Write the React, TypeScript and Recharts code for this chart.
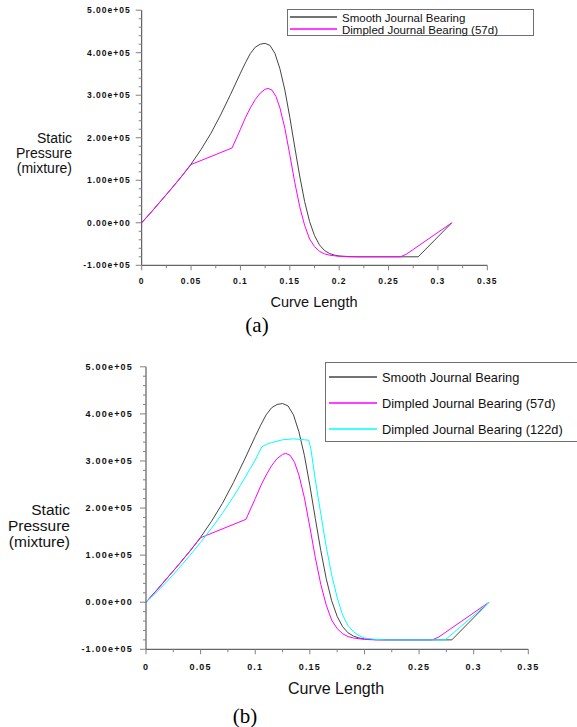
import { LineChart, Line, XAxis, YAxis } from 'recharts'

// axis ticks
const xMajor = [0, 0.05, 0.1, 0.15, 0.2, 0.25, 0.3, 0.35]
const xLabels = ['0', '0.05', '0.1', '0.15', '0.2', '0.25', '0.3', '0.35']
const xMinor = [0.025, 0.075, 0.125, 0.175, 0.225, 0.275, 0.325]
const yMajor = [-1e5, 0, 1e5, 2e5, 3e5, 4e5, 5e5]
const yLabels = ['-1.00e+05', '0.00e+00', '1.00e+05', '2.00e+05', '3.00e+05', '4.00e+05', '5.00e+05']
const yMinor = [
  -8e4, -6e4, -4e4, -2e4, 2e4, 4e4, 6e4, 8e4, 1.2e5, 1.4e5, 1.6e5, 1.8e5,
  2.2e5, 2.4e5, 2.6e5, 2.8e5, 3.2e5, 3.4e5, 3.6e5, 3.8e5, 4.2e5, 4.4e5, 4.6e5, 4.8e5,
]

// Smooth Journal Bearing
const smoothX = [
  0, 0.01, 0.02, 0.03, 0.04, 0.05, 0.06, 0.07, 0.08, 0.09, 0.1, 0.105, 0.11, 0.115, 0.12,
  0.125, 0.13, 0.135, 0.14, 0.145, 0.15, 0.155, 0.16, 0.165, 0.17, 0.175, 0.18, 0.185,
  0.19, 0.195, 0.2, 0.21, 0.22, 0.28, 0.314,
]
const smoothP = [
  0, 0.26e5, 0.53e5, 0.8e5, 1.08e5, 1.38e5, 1.72e5, 2.1e5, 2.54e5, 3.02e5, 3.52e5, 3.76e5,
  3.98e5, 4.13e5, 4.2e5, 4.22e5, 4.17e5, 3.98e5, 3.62e5, 3.12e5, 2.48e5, 1.78e5, 1.1e5,
  0.5e5, 0.03e5, -0.3e5, -0.52e5, -0.65e5, -0.72e5, -0.76e5, -0.78e5, -0.795e5, -0.8e5,
  -0.8e5, 0,
]

// Dimpled Journal Bearing (57d)
const dimpled57X = [
  0, 0.01, 0.02, 0.03, 0.04, 0.05, 0.0915, 0.1, 0.105, 0.11, 0.115, 0.12, 0.125, 0.128,
  0.132, 0.136, 0.14, 0.145, 0.15, 0.155, 0.16, 0.165, 0.17, 0.175, 0.18, 0.185, 0.19,
  0.2, 0.21, 0.262, 0.268, 0.314,
]
const dimpled57P = [
  0, 0.26e5, 0.53e5, 0.8e5, 1.08e5, 1.37e5, 1.76e5, 2.2e5, 2.47e5, 2.7e5, 2.9e5, 3.05e5,
  3.14e5, 3.16e5, 3.12e5, 2.97e5, 2.7e5, 2.22e5, 1.6e5, 0.95e5, 0.38e5, -0.06e5, -0.38e5,
  -0.56e5, -0.67e5, -0.73e5, -0.76e5, -0.79e5, -0.8e5, -0.8e5, -0.74e5, 0,
]

// Dimpled Journal Bearing (122d)
const dimpled122X = [
  0, 0.01, 0.02, 0.03, 0.04, 0.05, 0.06, 0.07, 0.08, 0.09, 0.1, 0.106, 0.11, 0.115, 0.12,
  0.125, 0.13, 0.135, 0.14, 0.145, 0.149, 0.151, 0.155, 0.16, 0.165, 0.17, 0.175, 0.18,
  0.185, 0.19, 0.195, 0.2, 0.21, 0.22, 0.274, 0.314,
]
const dimpled122P = [
  0, 0.22e5, 0.46e5, 0.72e5, 0.99e5, 1.27e5, 1.57e5, 1.89e5, 2.24e5, 2.62e5, 3.02e5, 3.3e5,
  3.35e5, 3.39e5, 3.42e5, 3.45e5, 3.46e5, 3.47e5, 3.46e5, 3.45e5, 3.44e5, 3.25e5, 2.6e5,
  1.88e5, 1.18e5, 0.58e5, 0.1e5, -0.27e5, -0.5e5, -0.63e5, -0.71e5, -0.76e5, -0.79e5,
  -0.8e5, -0.8e5, 0,
]

const toPoints = (xs: number[], ps: number[]) => xs.map((x, i) => ({ x, p: ps[i] }))

const series = [
  { name: 'Smooth Journal Bearing', color: '#454545', data: toPoints(smoothX, smoothP) },
  { name: 'Dimpled Journal Bearing (57d)', color: '#ff00ff', data: toPoints(dimpled57X, dimpled57P) },
  { name: 'Dimpled Journal Bearing (122d)', color: '#00ffff', data: toPoints(dimpled122X, dimpled122P) },
]

const xTicks = [...xMajor, ...xMinor].sort((a, b) => a - b)
const yTicks = [...yMajor, ...yMinor].sort((a, b) => a - b)

const tickFont = '"Liberation Sans", Arial, sans-serif'

function findMajor(list: number[], v: number) {
  return list.findIndex((m) => Math.abs(m - v) < 1e-9)
}

function XTick(props: any) {
  const { x, y, payload, fontSize, spacing, dy } = props
  const i = findMajor(xMajor, payload.value)
  return (
    <g>
      <line x1={x} y1={y} x2={x} y2={y + (i >= 0 ? 5 : 3)} stroke="#808080" />
      {i >= 0 && (
        <text x={x} y={y + dy} textAnchor="middle" fontSize={fontSize} fontWeight="bold"
          fontFamily={tickFont} letterSpacing={spacing} fill="#111">
          {xLabels[i]}
        </text>
      )}
    </g>
  )
}

function YTick(props: any) {
  const { x, y, payload, fontSize, spacing, dx } = props
  const i = findMajor(yMajor, payload.value)
  return (
    <g>
      <line x1={x} y1={y} x2={x - (i >= 0 ? 6 : 3)} y2={y} stroke="#808080" />
      {i >= 0 && (
        <text x={x - dx} y={y} textAnchor="end" dominantBaseline="central" fontSize={fontSize}
          fontWeight="bold" fontFamily={tickFont} letterSpacing={spacing} fill="#111">
          {yLabels[i]}
        </text>
      )}
    </g>
  )
}

interface PanelProps {
  top: number
  height: number
  plot: { left: number; right: number; top: number; bottom: number }
  count: number
  fontSize: number
  spacing: number
  xDy: number
  yDx: number
}

function Panel({ top, height, plot, count, fontSize, spacing, xDy, yDx }: PanelProps) {
  const yAxisW = 60
  const xAxisH = 30
  const margin = {
    top: plot.top - top,
    left: plot.left - yAxisW,
    right: 577 - plot.right,
    bottom: top + height - plot.bottom - xAxisH,
  }
  return (
    <div style={{ position: 'absolute', left: 0, top }}>
      <LineChart width={577} height={height} margin={margin}>
        <XAxis
          dataKey="x"
          type="number"
          domain={[0, 0.35]}
          ticks={xTicks}
          interval={0}
          height={xAxisH}
          tickSize={0}
          tickMargin={0}
          tickLine={false}
          axisLine={{ stroke: '#404040' }}
          tick={(p: any) => <XTick {...p} fontSize={fontSize} spacing={spacing} dy={xDy} />}
          allowDuplicatedCategory={false}
        />
        <YAxis
          type="number"
          domain={[-1e5, 5e5]}
          ticks={yTicks}
          interval={0}
          width={yAxisW}
          tickSize={0}
          tickMargin={0}
          tickLine={false}
          axisLine={{ stroke: '#404040' }}
          tick={(p: any) => <YTick {...p} fontSize={fontSize} spacing={spacing} dx={yDx} />}
        />
        {series.slice(0, count).map((s) => (
          <Line
            key={s.name}
            data={s.data}
            dataKey="p"
            type="linear"
            stroke={s.color}
            strokeWidth={1}
            dot={false}
            isAnimationActive={false}
          />
        ))}
      </LineChart>
    </div>
  )
}

const abs = (style: React.CSSProperties): React.CSSProperties => ({ position: 'absolute', ...style })

// legend drawn as a small svg over the page
function LegendBox(props: {
  left: number; top: number; width: number; height: number; rows: number[]; count: number
  lineX1: number; lineX2: number; textX: number; fontSize: number
}) {
  const { left, top, width, height, rows, count, lineX1, lineX2, textX, fontSize } = props
  return (
    <svg style={abs({ left, top, overflow: 'visible' })} width={width} height={height}>
      <rect x={0.5} y={0.5} width={width - 1} height={height - 1} fill="none" stroke="#707070" />
      {series.slice(0, count).map((s, i) => (
        <g key={s.name}>
          <line x1={lineX1 - left} x2={lineX2 - left} y1={rows[i] - top} y2={rows[i] - top}
            stroke={s.color} strokeWidth={1.3} />
          <text x={textX - left} y={rows[i] - top + 0.5} dominantBaseline="central" fontSize={fontSize}
            fontFamily={tickFont} fill="#111">
            {s.name}
          </text>
        </g>
      ))}
    </svg>
  )
}

function YTitle({ right, top, fontSize, lineHeight }: { right: number; top: number; fontSize: number; lineHeight: number }) {
  return (
    <div style={abs({ left: right - 120, width: 120, top, textAlign: 'right', fontSize, lineHeight: `${lineHeight}px`, color: '#111' })}>
      Static<br />Pressure<br />(mixture)
    </div>
  )
}

export default function App() {
  return (
    <div style={{ position: 'absolute', left: 0, top: 0, width: 577, height: 727, overflow: 'hidden', background: '#fff', fontFamily: tickFont }}>
      <Panel top={0} height={340} plot={{ left: 141.7, right: 487.3, top: 10.2, bottom: 265.3 }}
        count={2} fontSize={8.5} spacing={1} xDy={19} yDx={11} />
      <Panel top={350} height={377} plot={{ left: 146, right: 528.3, top: 366.8, bottom: 649.3 }}
        count={3} fontSize={9} spacing={1.2} xDy={21} yDx={13} />

      <YTitle right={72} top={130.5} fontSize={14} lineHeight={15} />
      <YTitle right={70} top={502} fontSize={15.5} lineHeight={16} />

      <div style={abs({ left: 214, width: 200, top: 294, textAlign: 'center', fontSize: 14.5, lineHeight: '16px', color: '#111' })}>
        Curve Length
      </div>
      <div style={abs({ left: 236, width: 200, top: 680, textAlign: 'center', fontSize: 16, lineHeight: '18px', color: '#111' })}>
        Curve Length
      </div>

      <div style={abs({ left: 207, width: 100, top: 312, textAlign: 'center', fontSize: 21, lineHeight: '26px', fontFamily: '"Liberation Serif", serif' })}>
        (a)
      </div>
      <div style={abs({ left: 195, width: 100, top: 703, textAlign: 'center', fontSize: 21, lineHeight: '26px', fontFamily: '"Liberation Serif", serif' })}>
        (b)
      </div>

      <LegendBox left={287} top={9} width={247} height={27} rows={[17, 29]} count={2}
        lineX1={290} lineX2={337} textX={342} fontSize={11.5} />
      <LegendBox left={325} top={362} width={260} height={80} rows={[377, 403, 429]} count={3}
        lineX1={329} lineX2={377} textX={382} fontSize={12.8} />
    </div>
  )
}
